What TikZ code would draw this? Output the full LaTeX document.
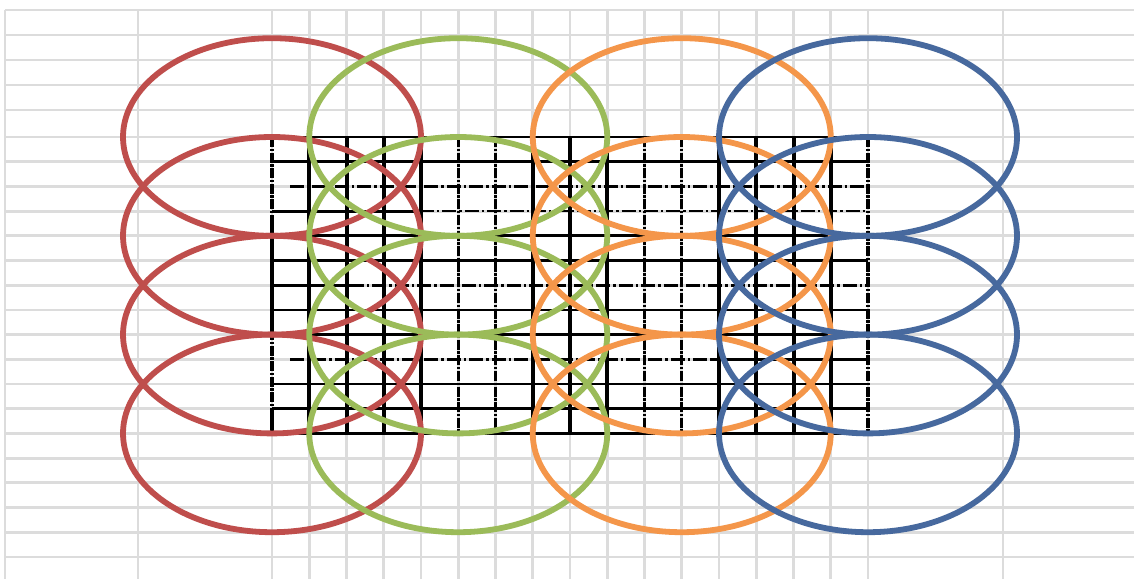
\documentclass[tikz,border=0pt]{standalone}
\usepackage{tikz}
\usepackage{xcolor}
\definecolor{ringred}{HTML}{BF4E4C}
\definecolor{ringgreen}{HTML}{9BBB59}
\definecolor{ringorange}{HTML}{F4964A}
\definecolor{ringblue}{HTML}{47699E}
\definecolor{sheetgray}{HTML}{DCDCDC}
\newcommand{\colw}{37.25}
\newcommand{\rowh}{24.7}

\begin{document}
\begin{tikzpicture}[x=0.5pt, y=-0.5pt,
            sheet/.style={draw=sheetgray, line width=1.4pt},
            cellv/.style={draw=black, line width=2pt},
            cellh/.style={draw=black, line width=1.4pt},
            brokenv/.style={draw=black, line width=1.6pt, dash pattern=on 5pt off 0.8pt on 1.2pt off 0.8pt},
            brokenh/.style={draw=black, line width=1.3pt, dash pattern=on 7pt off 1.5pt on 1.2pt off 1.5pt},
            ring/.style={line width=2.9pt}]
            \useasboundingbox[fill=white] (0,0) rectangle (1134,579);
            \foreach \y in {10,35,60,85,110}
                \draw[sheet] (5,\y) -- (1134,\y);
            \foreach \i in {0,...,17}
                \draw[sheet] (5,137+\i*\rowh) -- (1134,137+\i*\rowh);
            \foreach \x in {5,138,1003}
                \draw[sheet] (\x,10) -- (\x,579);
            \foreach \j in {0,...,16}
                \draw[sheet] (272+\j*\colw,10) -- (272+\j*\colw,579);
            \foreach \i in {0,1,4,5,7,8,10,11,12}
                \draw[cellh] (272,137+\i*\rowh) -- (868,137+\i*\rowh);
            \draw[brokenh] (290,137+2*\rowh) -- (868,137+2*\rowh);
            \draw[cellh] (272,137+3*\rowh) -- (420,137+3*\rowh);
            \draw[brokenh] (420,137+3*\rowh) -- (868,137+3*\rowh);
            \draw[cellh] (272,137+6*\rowh) -- (350,137+6*\rowh);
            \draw[brokenh] (350,137+6*\rowh) -- (868,137+6*\rowh);
            \draw[brokenh] (290,137+9*\rowh) -- (710,137+9*\rowh);
            \draw[cellh] (710,137+9*\rowh) -- (868,137+9*\rowh);
            \foreach \j in {1,2,3,4,7,8,9,12,13,14,15}
                \draw[cellv] (272+\j*\colw,137) -- (272+\j*\colw,137+12*\rowh);
            \foreach \j in {5,6,10,11,16}
                \draw[brokenv] (272+\j*\colw,137) -- (272+\j*\colw,137+12*\rowh);
            \draw[brokenv] (272,137) -- (272,220);
            \draw[cellv] (272,220) -- (272,330);
            \draw[brokenv] (272,330) -- (272,410);
            \draw[cellv] (272,410) -- (272,137+12*\rowh);
            \foreach \c/\k in {ringred/0, ringgreen/5, ringorange/11, ringblue/16}
                \foreach \m in {0,...,3}
                    \draw[ring, \c] (272+\k*\colw,137+4*\m*\rowh) ellipse [x radius=4*\colw, y radius=4*\rowh];
        \end{tikzpicture}
\end{document}
